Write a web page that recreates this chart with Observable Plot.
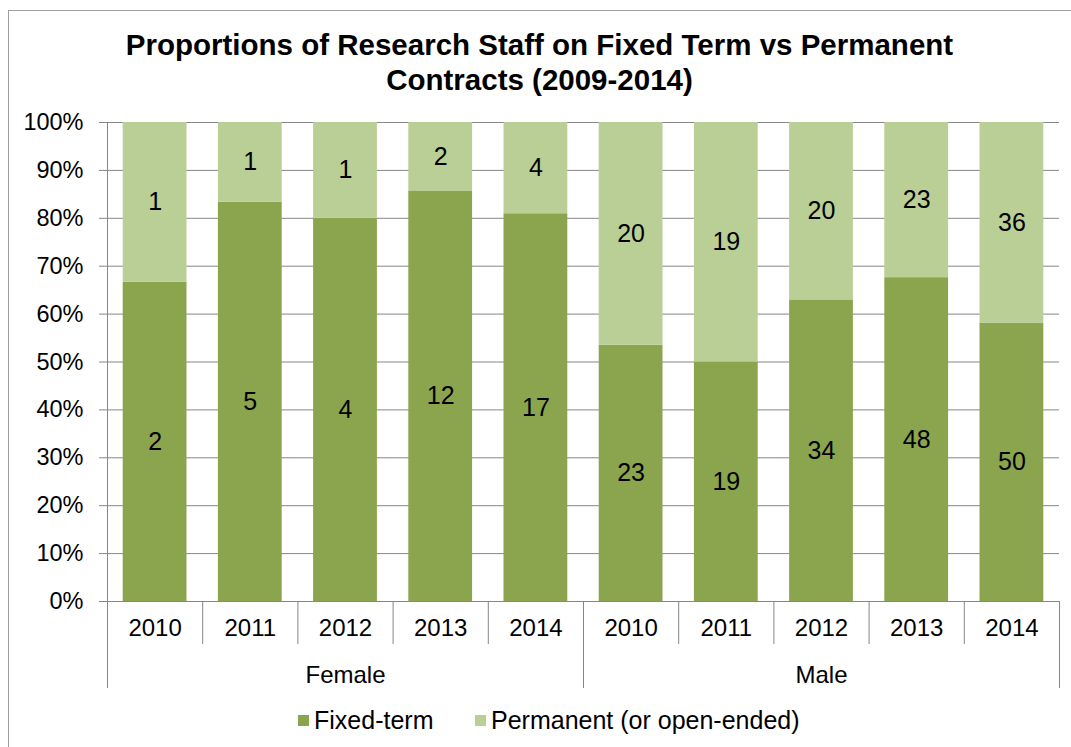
<!DOCTYPE html>
<html>
<head>
<meta charset="utf-8">
<script src="https://cdn.jsdelivr.net/npm/d3@7"></script>
<script src="https://cdn.jsdelivr.net/npm/@observablehq/plot@0.6"></script>
<style>
  html, body { margin: 0; padding: 0; background: #fff; }
  body { font-family: "Liberation Sans", Arial, sans-serif; }
  #page { position: relative; width: 1071px; height: 747px; overflow: hidden; }
  #frame { position: absolute; left: 8px; top: 10px; width: 1080px; height: 760px; border: 1.5px solid #a0a0a0; box-sizing: border-box; }
  #title { position: absolute; left: 8px; right: 0; top: 27px; text-align: center; font-weight: bold; font-size: 29.5px; line-height: 35px; color: #000; }
  #chart { position: absolute; left: 0; top: 0; }
  #legend { position: absolute; top: 705px; left: 0; width: 1071px; font-size: 25px; color: #000; }
  .item { position: absolute; display: flex; align-items: center; white-space: nowrap; line-height: 30px; }
  .sw { width: 11px; height: 11px; margin-right: 5px; }
</style>
</head>
<body>
<div id="page">
  <div id="frame"></div>
  <div id="title">Proportions of Research Staff on Fixed Term vs Permanent<br>Contracts (2009-2014)</div>
  <div id="chart"></div>
  <div id="legend"></div>
</div>
<script>
const genders = ["Female", "Male"];
const years = ["2010", "2011", "2012", "2013", "2014"];
const fixedTerm = [2, 5, 4, 12, 17, 23, 19, 34, 48, 50];
const permanent = [1, 1, 1, 2, 4, 20, 19, 20, 23, 36];
const seriesNames = ["Fixed-term", "Permanent (or open-ended)"];
const colors = ["#8aa54e", "#b9cf96"];

// Build table
const rows = [];
const cats = [];
genders.forEach((g, gi) => years.forEach((y, yi) => {
  const i = gi * years.length + yi;
  cats.push({i, gender: g, year: y});
  const total = fixedTerm[i] + permanent[i];
  const f = fixedTerm[i] / total;
  rows.push({i, series: seriesNames[0], value: fixedTerm[i], y1: 0, y2: f});
  rows.push({i, series: seriesNames[1], value: permanent[i], y1: f, y2: 1});
}));

const W = 1071, H = 700;
const mT = 122, mB = H - 601, mL = 107, mR = 12;
const plotH = H - mT - mB;
const n = cats.length;
const step = (W - mL - mR) / n;
const inset = step * 0.165;
const below = px => -px / plotH; // pixel offset below baseline in y units

// boundaries between categories
const bounds = d3.range(n + 1).map(b => ({
  b,
  group: b % years.length === 0,
  top: b === 0 ? 1 : 0
}));
const groupCenters = genders.map((g, gi) => ({g, x: gi * years.length + years.length / 2}));

const chart = Plot.plot({
  width: W, height: H,
  marginTop: mT, marginBottom: mB, marginLeft: mL, marginRight: mR,
  style: {fontFamily: "Liberation Sans, Arial, sans-serif", fontSize: "24px", color: "#000", background: "transparent"},
  x: {domain: [0, n], axis: null},
  y: {domain: [0, 1], axis: null},
  color: {domain: seriesNames, range: colors},
  marks: [
    Plot.gridY(d3.range(0, 1.0001, 0.1), {stroke: "#878787", strokeOpacity: 1, strokeWidth: 1}),
    Plot.axisY(d3.range(0, 1.0001, 0.1), {
      anchor: "left", tickSize: 8, tickPadding: 16, stroke: "#878787",
      tickFormat: d3.format(".0%"), fontSize: 23.5, fill: "#000"
    }),
    Plot.rectY(rows, {x1: "i", x2: d => d.i + 1, y1: "y1", y2: "y2", fill: "series", insetLeft: inset, insetRight: inset}),
    Plot.text(rows, {x: d => d.i + 0.5, y: d => (d.y1 + d.y2) / 2, text: d => String(d.value), fontSize: 25, fill: "#000"}),
    Plot.ruleY([0], {stroke: "#878787"}),
    Plot.ruleX(bounds, {x: "b", y1: "top", y2: d => below(d.group ? 87 : 43), stroke: "#878787", strokeWidth: 1}),
    Plot.text(cats, {x: d => d.i + 0.5, y: 0, dy: 27, text: "year", fontSize: 24, fill: "#000"}),
    Plot.text(groupCenters, {x: "x", y: 0, dy: 74, text: "g", fontSize: 24, fill: "#000"})
  ]
});
document.getElementById("chart").appendChild(chart);

// Legend
const legend = document.getElementById("legend");
const legendX = [298, 475];
seriesNames.forEach((s, k) => {
  const it = document.createElement("div");
  it.className = "item";
  it.style.left = legendX[k] + "px";
  it.innerHTML = `<span class="sw" style="background:${colors[k]}"></span><span>${s}</span>`;
  legend.appendChild(it);
});
</script>
</body>
</html>
